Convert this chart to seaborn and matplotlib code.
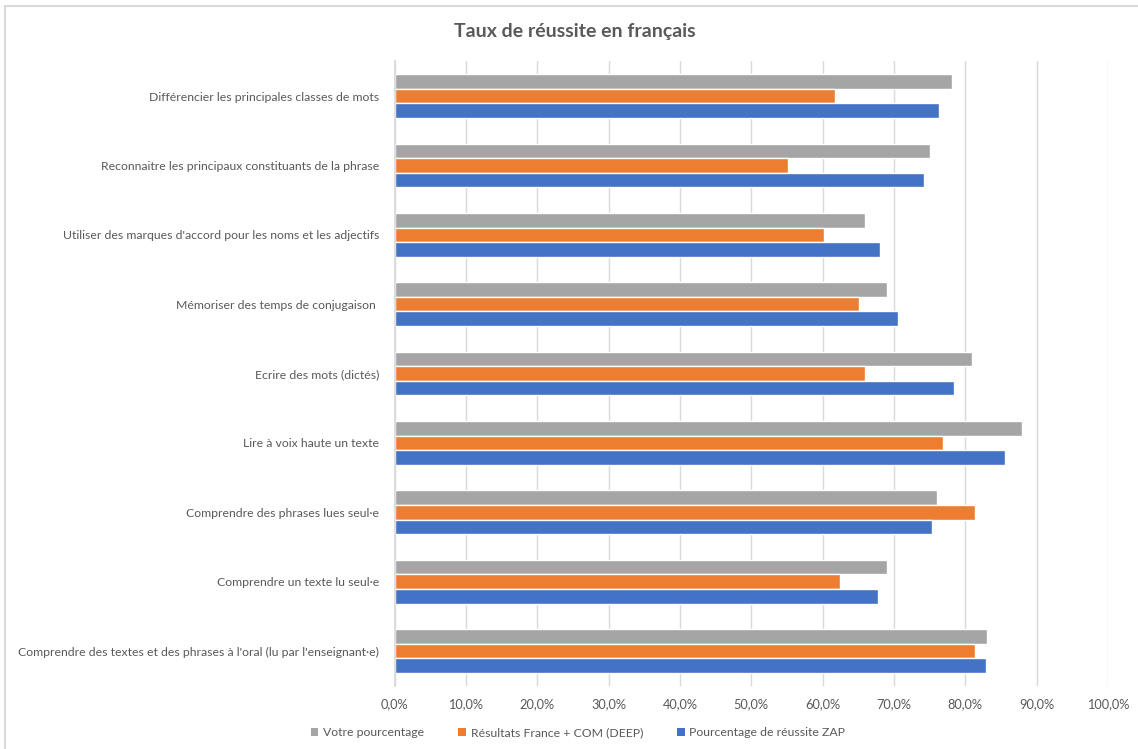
import matplotlib
matplotlib.use("Agg")
import matplotlib.pyplot as plt
import matplotlib.ticker as mtick
from matplotlib.lines import Line2D
from matplotlib.patches import Patch
import pandas as pd
import seaborn as sns

# ── Data ───────────────────────────────────────────────────────────────────
categories = [
    "Différencier les principales classes de mots",
    "Reconnaitre les principaux constituants de la phrase",
    "Utiliser des marques d'accord pour les noms et les adjectifs",
    "Mémoriser des temps de conjugaison ",
    "Ecrire des mots (dictés)",
    "Lire à voix haute un texte",
    "Comprendre des phrases lues seul·e",
    "Comprendre un texte lu seul·e",
    "Comprendre des textes et des phrases à l'oral (lu par l'enseignant·e)",
]
series = ["Votre pourcentage", "Résultats France + COM (DEEP)", "Pourcentage de réussite ZAP"]
votre = [0.781, 0.750, 0.660, 0.690, 0.810, 0.880, 0.760, 0.690, 0.830]
france = [0.618, 0.551, 0.602, 0.651, 0.660, 0.769, 0.813, 0.625, 0.813]
zap = [0.763, 0.742, 0.680, 0.705, 0.784, 0.855, 0.754, 0.678, 0.829]
colors = ["#A5A5A5", "#ED7D31", "#4472C4"]

df = pd.DataFrame({
    "categorie": categories * 3,
    "serie": [series[0]] * 9 + [series[1]] * 9 + [series[2]] * 9,
    "valeur": votre + france + zap,
})

# ── Style ──────────────────────────────────────────────────────────────────
sns.set_theme(style="white")
plt.rcParams["font.family"] = ["Lato", "DejaVu Sans"]
TXT = "#595959"

fig = plt.figure(figsize=(11.38, 7.49), dpi=100)
ax = fig.add_axes([0.3467, 0.0845, 0.6269, 0.8335])

sns.barplot(data=df, y="categorie", x="valeur", hue="serie", hue_order=series,
            order=categories, palette=colors, orient="h", width=0.63,
            saturation=1, legend=False, ax=ax)

ax.set_xlim(0, 1.0)
ax.xaxis.set_major_locator(mtick.MultipleLocator(0.1))
ax.xaxis.set_major_formatter(mtick.FuncFormatter(lambda v, _: f"{v*100:.1f}%".replace(".", ",")))
ax.grid(axis="x", color="#D9D9D9", linewidth=1)
ax.set_axisbelow(True)
for s in ["top", "right", "bottom"]:
    ax.spines[s].set_visible(False)
ax.spines["left"].set_color("#D9D9D9")
ax.set_xlabel(""); ax.set_ylabel("")
ax.tick_params(axis="x", length=0, pad=9, labelsize=9.2, labelcolor=TXT)
ax.tick_params(axis="y", length=0, pad=11, labelsize=8.8, labelcolor=TXT)

fig.text(0.505, 1 - 32 / 749, "Taux de réussite en français", ha="center", va="center",
         fontsize=14, fontweight="bold", color=TXT)

handles = [Patch(facecolor=c, edgecolor="none", label=s) for c, s in zip(colors, series)]
fig.legend(handles=handles, loc="center", bbox_to_anchor=(0.508, 1 - 733 / 749), ncol=3,
           frameon=False, fontsize=8.8, labelcolor=TXT, handlelength=0.6, handleheight=0.6,
           handletextpad=0.4, columnspacing=2.8)

# chart area border (top / left edges visible)
fig.add_artist(Line2D([5 / 1138, 5 / 1138], [0, 1 - 6 / 749], color="#D9D9D9", linewidth=1.5))
fig.add_artist(Line2D([5 / 1138, 1], [1 - 6 / 749, 1 - 6 / 749], color="#D9D9D9", linewidth=1.5))

fig.savefig("out.png", dpi=100)
